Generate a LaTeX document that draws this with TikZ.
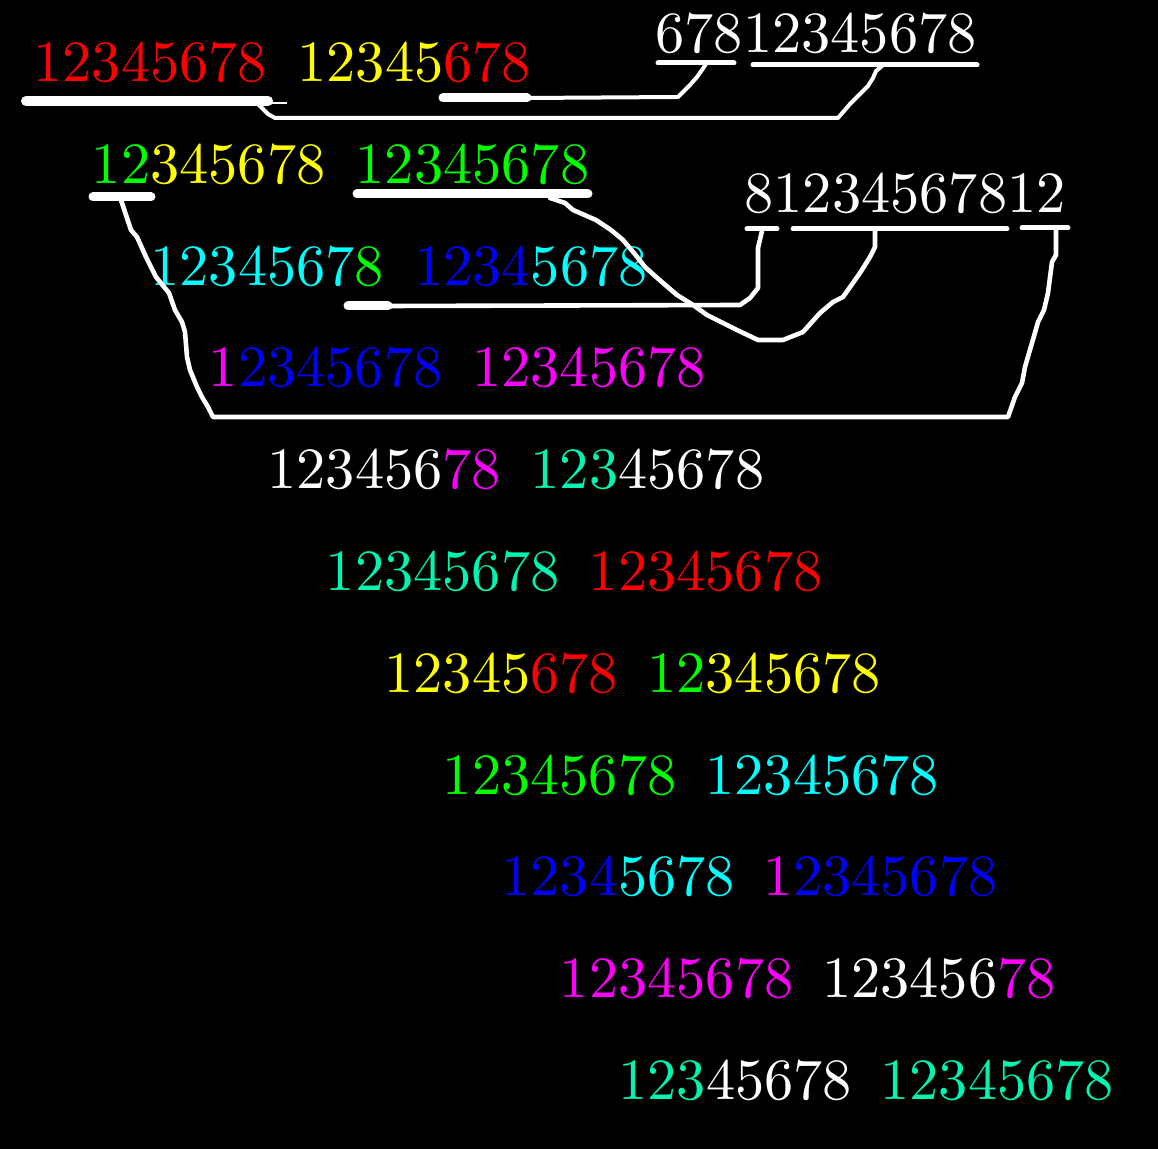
\documentclass[tikz,border=0pt]{standalone}
\font\digitfont=cmr10 at 29.2pt
\definecolor{cred}{HTML}{FF0000}
\definecolor{cyel}{HTML}{FFFF00}
\definecolor{cgrn}{HTML}{00FF00}
\definecolor{ccya}{HTML}{00FFFF}
\definecolor{cblu}{HTML}{0000FF}
\definecolor{cmag}{HTML}{FF00FF}
\definecolor{cwht}{HTML}{FFFFFF}
\definecolor{ctea}{HTML}{00F5B0}
\tikzset{
digits/.style={anchor=base west, inner sep=0pt, text=white, font=\digitfont}, % one block of digits
bar/.style={white, line width=4.5pt, line cap=round}, % thick marks under the rows
rule/.style={white, line width=2.5pt, line cap=round}, % marks under the white strings
wire/.style={white, line width=2.3pt, line join=round, line cap=round}, % hand drawn links
}

\begin{document}
\begin{tikzpicture}[x=0.5pt, y=-0.5pt]
\useasboundingbox (0,0) rectangle (1158,1149);
\fill[black] (0,0) rectangle (1158,1149);

% the staircase of digit blocks
\foreach \i/\ta/\tb in {
1/{\textcolor{cred}{12345678}}/{\textcolor{cyel}{12345}\textcolor{cred}{678}},
2/{\textcolor{cgrn}{12}\textcolor{cyel}{345678}}/{\textcolor{cgrn}{12345678}},
3/{\textcolor{ccya}{1234567}\textcolor{cgrn}{8}}/{\textcolor{cblu}{1234}\textcolor{ccya}{5678}},
4/{\textcolor{cmag}{1}\textcolor{cblu}{2345678}}/{\textcolor{cmag}{12345678}},
5/{\textcolor{cwht}{123456}\textcolor{cmag}{78}}/{\textcolor{ctea}{123}\textcolor{cwht}{45678}},
6/{\textcolor{ctea}{12345678}}/{\textcolor{cred}{12345678}},
7/{\textcolor{cyel}{12345}\textcolor{cred}{678}}/{\textcolor{cgrn}{12}\textcolor{cyel}{345678}},
8/{\textcolor{cgrn}{12345678}}/{\textcolor{ccya}{12345678}},
9/{\textcolor{cblu}{1234}\textcolor{ccya}{5678}}/{\textcolor{cmag}{1}\textcolor{cblu}{2345678}},
10/{\textcolor{cmag}{12345678}}/{\textcolor{cwht}{123456}\textcolor{cmag}{78}},
11/{\textcolor{ctea}{123}\textcolor{cwht}{45678}}/{\textcolor{ctea}{12345678}}}
{
\node[digits] (left\i) at ({33+58.5*(\i-1)},{81.5+101.8*(\i-1)}) {\ta};
\node[digits] (right\i) at ({297+58.3*(\i-1)},{81.5+101.8*(\i-1)}) {\tb};
}

% the two white strings
\node[digits] (topA) at (655,53) {67812345678};
\node[digits] (topB) at (744,213) {81234567812};

% marks under the strings
\draw[rule] (658,63) coordinate (a678w) -- (734,63) coordinate (a678e);
\draw[rule] (753,65) coordinate (amidw) -- (977,65) coordinate (amide);
\draw[rule] (747,229) coordinate (b8w) -- (777,229) coordinate (b8e);
\draw[rule] (793,229) coordinate (bmidw) -- (1007,229) coordinate (bmide);
\draw[rule] (1022,228) coordinate (b12w) -- (1068,228) coordinate (b12e);

% marks under the rows
\draw[bar, line width=5pt] (26,101) coordinate (m1w) -- (268,101) coordinate (m1e);
\draw[white, line width=0.6pt] (250,103) -- (287,103);
\draw[bar] (443,98) coordinate (m2w) -- (527,98) coordinate (m2e);
\draw[bar] (93,197) coordinate (m3w) -- (151,197) coordinate (m3e);
\draw[bar] (357,194) coordinate (m4w) -- (588,194) coordinate (m4e);
\draw[bar] (348,306) coordinate (m5w) -- (388,306) coordinate (m5e);

% links
\coordinate (a678) at (706,64);
\coordinate (amid) at (882,66);
\coordinate (b8) at (762,231);
\coordinate (bmid) at (875,231);
\coordinate (b12) at (1056,230);
\draw[wire, line width=2pt] (m2e) -- (678,97) -- (690,85) -- (697,77) -- (702,70) -- (a678);
\draw[wire, line width=2pt] (258,104) -- (268,114) -- (275,118) -- (838,118) -- (850,104)
  -- (860,94) -- (868,86) -- (873,78) -- (876,71) -- (amid);
\draw[wire] (121,200) -- (131,230) -- (137,237) -- (146,257) -- (156,277) -- (169,293)
  -- (175,310) -- (182,322) -- (185,332) -- (187,357) -- (190,370) -- (197,387)
  -- (202,397) -- (208,407) -- (213,417) -- (1008,417) -- (1015,397) -- (1022,383)
  -- (1025,367) -- (1027,360) -- (1032,343) -- (1038,322) -- (1044,310) -- (1048,293)
  -- (1052,262) -- (1056,255) -- (b12);
\draw[wire] (550,198) -- (565,203) -- (573,210) -- (596,220) -- (611,230) -- (623,240)
  -- (634,253) -- (645,267) -- (655,276) -- (663,283) -- (677,295) -- (693,305)
  -- (707,315) -- (723,323) -- (737,330) -- (758,340) -- (783,340) -- (803,332)
  -- (820,313) -- (833,302) -- (843,297) -- (860,273) -- (870,257) -- (875,247) -- (bmid);
\draw[wire] (m5e) -- (740,305) -- (750,298) -- (758,288) -- (758,248) -- (b8);
\end{tikzpicture}
\end{document}
